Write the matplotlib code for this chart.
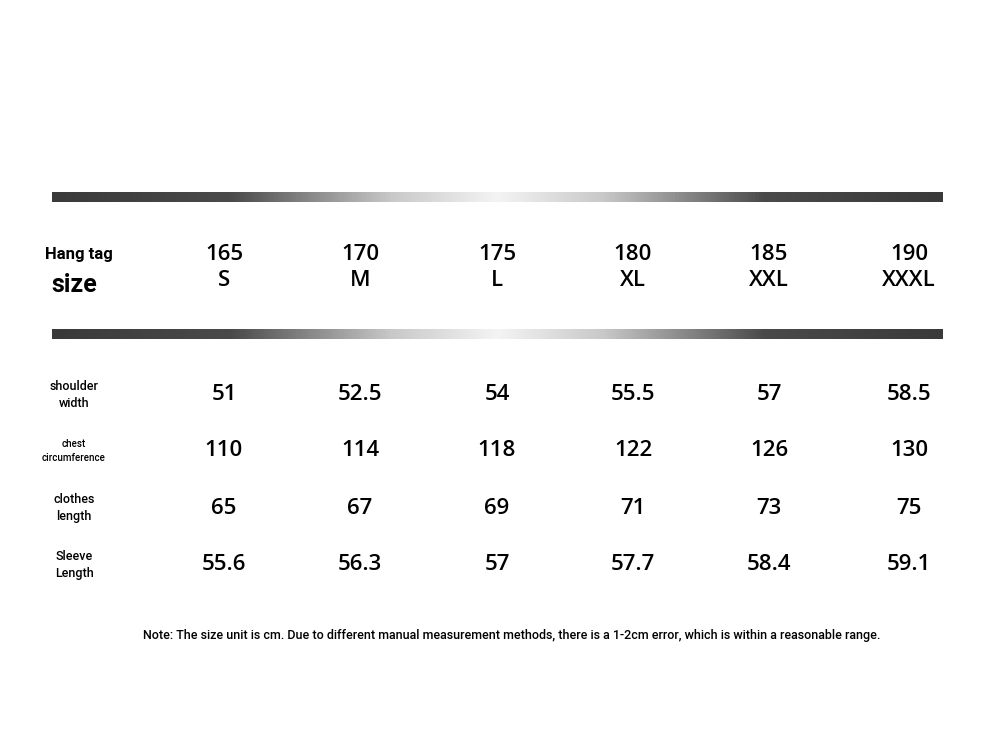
import numpy as np
import matplotlib.pyplot as plt
from matplotlib.colors import LinearSegmentedColormap

sizes_num = ['165', '170', '175', '180', '185', '190']
sizes_code = ['S', 'M', 'L', 'XL', 'XXL', 'XXXL']
row_labels = ['shoulder\nwidth', 'chest\ncircumference', 'clothes\nlength', 'Sleeve\nLength']
row_values = [
    ['51', '52.5', '54', '55.5', '57', '58.5'],
    ['110', '114', '118', '122', '126', '130'],
    ['65', '67', '69', '71', '73', '75'],
    ['55.6', '56.3', '57', '57.7', '58.4', '59.1'],
]
note = ('Note: The size unit is cm. Due to different manual measurement methods, '
        'there is a 1-2cm error, which is within a reasonable range.')

label_font = ['Roboto', 'DejaVu Sans']
num_font = ['Open Sans', 'DejaVu Sans']

fig = plt.figure(figsize=(9.94, 7.46), dpi=100)
ax = fig.add_axes([0, 0, 1, 1])
ax.set_xlim(0, 994)
ax.set_ylim(746, 0)
ax.axis('off')

# gradient bars: dark at the ends, nearly white in the middle
grad_cmap = LinearSegmentedColormap.from_list(
    'bar', [(0, '#3a3a3a'), (0.2, '#4a4a4a'), (0.38, '#c8c8c8'), (0.5, '#f4f4f4'),
            (0.62, '#c8c8c8'), (0.8, '#4a4a4a'), (1, '#3a3a3a')])
grad = np.linspace(0, 1, 512).reshape(1, -1)
for top, bottom in [(192, 202), (329, 339)]:
    ax.imshow(grad, cmap=grad_cmap, aspect='auto', extent=(52, 943, bottom, top), zorder=1)

col_x = [224, 360, 497, 633, 769, 909]

ax.text(79, 254, 'Hang tag', ha='center', va='center', fontsize=12, fontweight='bold', family=label_font)
ax.text(74, 285, 'size', ha='center', va='center', fontsize=18, fontweight='bold', family=label_font)
for x, n, c in zip(col_x, sizes_num, sizes_code):
    ax.text(x, 255, n, ha='center', va='center', fontsize=16, fontweight='semibold', family=num_font)
    ax.text(x, 281, c, ha='center', va='center', fontsize=16, fontweight='semibold', family=num_font)

row_y = [395, 451, 508, 565]
label_sizes = [9, 7, 9, 9]
for y, lab, fs, vals in zip(row_y, row_labels, label_sizes, row_values):
    ax.text(74, y, lab, ha='center', va='center', fontsize=fs, fontweight='medium',
            family=label_font, linespacing=1.4)
    for x, v in zip(col_x, vals):
        ax.text(x, y, v, ha='center', va='center', fontsize=16, fontweight='semibold', family=num_font)

ax.text(512, 636, note, ha='center', va='center', fontsize=9, fontweight='medium', family=label_font)

fig.savefig('out.png', dpi=100, facecolor='white')
